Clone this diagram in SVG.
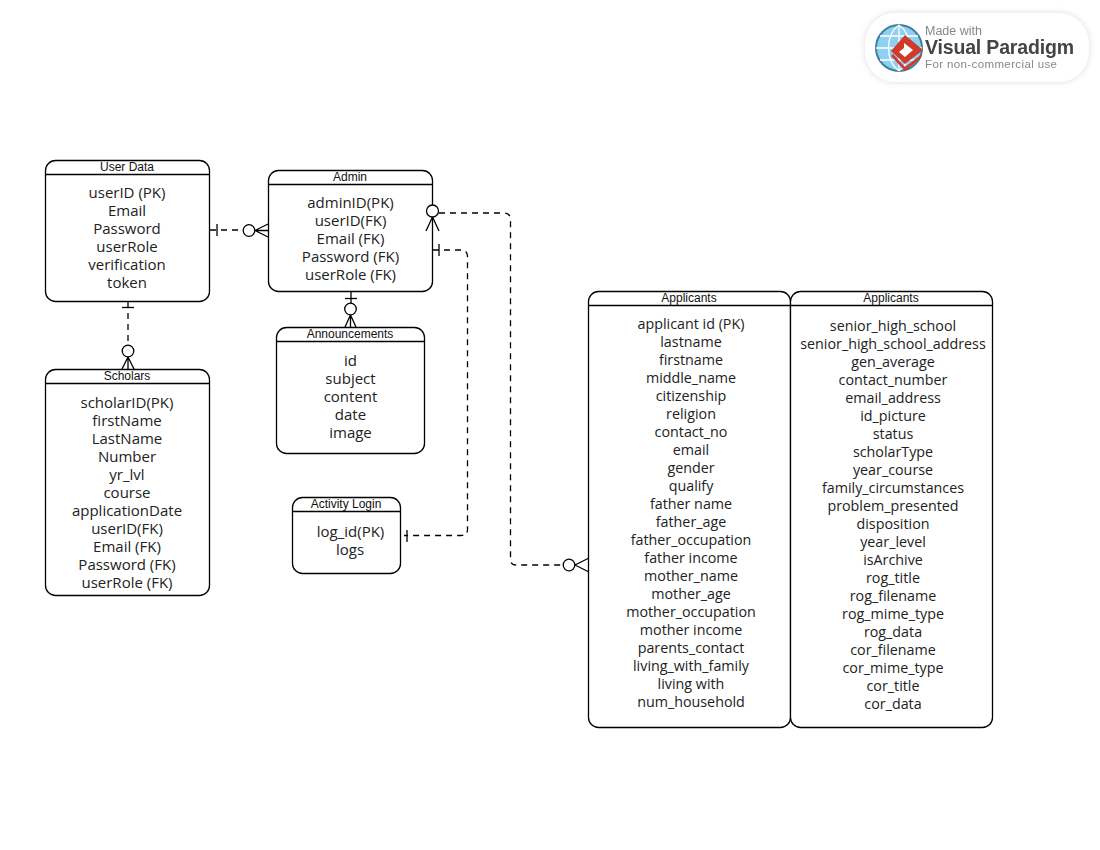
<svg xmlns="http://www.w3.org/2000/svg" width="1100" height="850" viewBox="0 0 1100 850">
<style>
.box{fill:#fff;stroke:#000;stroke-width:1.3}
.div{stroke:#000;stroke-width:1.3;fill:none}
.t{font:12px "Liberation Sans",Arial,sans-serif;fill:#111;text-anchor:middle}
.b{font:14.3px "Open Sans",sans-serif;fill:#222;text-anchor:middle}
.l{font-size:15px}
.c{fill:none;stroke:#000;stroke-width:1.3;stroke-dasharray:6 5}
.m{fill:none;stroke:#000;stroke-width:1.3}
.o{fill:#fff;stroke:#000;stroke-width:1.3}
</style>
<defs>
<filter id="soft" x="-20%" y="-30%" width="140%" height="160%"><feGaussianBlur stdDeviation="3"/></filter>
<filter id="bl" x="-5%" y="-5%" width="110%" height="110%"><feGaussianBlur stdDeviation="0.55"/></filter>
</defs>
<rect width="1100" height="850" fill="#fff"/>

<g id="badge">
<rect x="865" y="13" width="224" height="69" rx="30" fill="#ddd" filter="url(#soft)"/>
<rect x="865" y="13" width="224" height="69" rx="30" fill="#fff"/>
<g filter="url(#bl)">
<circle cx="899" cy="48" r="23" fill="#8fd0f2" stroke="#3f7f9c" stroke-width="2"/>
<path d="M876 48H922M899 25V71M899 25C885 35 885 61 899 71M899 25C913 35 913 61 899 71M880 36H918M880 60H918" fill="none" stroke="#fff" stroke-width="1.3"/>
<path d="M905 35L923 50L905 64L891 51Z" fill="#cf3a2c"/>
<path d="M891 56L905 71L921 58L922 54L905 67L893 54Z" fill="#cf3a2c"/>
<path d="M904 43L913 50L905 57L899 52L904 48Z" fill="#fff"/>
<text x="925" y="35" font-family="Liberation Sans,sans-serif" font-size="12.5" fill="#888">Made with</text>
<text x="925" y="54" font-family="Liberation Sans,sans-serif" font-size="19.5" font-weight="700" fill="#444" textLength="149">Visual Paradigm</text>
<text x="925" y="68" font-family="Liberation Sans,sans-serif" font-size="11.5" fill="#888" textLength="132">For non-commercial use</text>
</g>
</g>

<g id="user-data">
<rect class="box" x="45.500" y="160.500" width="164" height="141" rx="10"/>
<path class="div" d="M45.500 174.500H209.500"/>
<text class="t" x="127" y="171">User Data</text>
<text class="b l" x="127" y="198">userID (PK)</text>
<text class="b l" x="127" y="216">Email</text>
<text class="b l" x="127" y="234">Password</text>
<text class="b l" x="127" y="252">userRole</text>
<text class="b l" x="127" y="270">verification</text>
<text class="b l" x="127" y="288">token</text>
</g>

<g id="admin">
<rect class="box" x="268.500" y="170.500" width="164" height="121" rx="10"/>
<path class="div" d="M268.500 184.500H432.500"/>
<text class="t" x="350" y="181">Admin</text>
<text class="b l" x="350.500" y="208">adminID(PK)</text>
<text class="b l" x="350.500" y="226">userID(FK)</text>
<text class="b l" x="350.500" y="244">Email (FK)</text>
<text class="b l" x="350.500" y="262">Password (FK)</text>
<text class="b l" x="350.500" y="280">userRole (FK)</text>
</g>

<g id="announcements">
<rect class="box" x="276.500" y="327.500" width="148" height="126" rx="10"/>
<path class="div" d="M276.500 341.500H424.500"/>
<text class="t" x="350" y="338">Announcements</text>
<text class="b l" x="350.500" y="365.500">id</text>
<text class="b l" x="350.500" y="383.500">subject</text>
<text class="b l" x="350.500" y="401.500">content</text>
<text class="b l" x="350.500" y="419.500">date</text>
<text class="b l" x="350.500" y="437.500">image</text>
</g>

<g id="scholars">
<rect class="box" x="45.500" y="369.500" width="164" height="226" rx="10"/>
<path class="div" d="M45.500 383.500H209.500"/>
<text class="t" x="127" y="380">Scholars</text>
<text class="b l" x="127" y="408">scholarID(PK)</text>
<text class="b l" x="127" y="426">firstName</text>
<text class="b l" x="127" y="444">LastName</text>
<text class="b l" x="127" y="462">Number</text>
<text class="b l" x="127" y="480">yr_lvl</text>
<text class="b l" x="127" y="498">course</text>
<text class="b l" x="127" y="516">applicationDate</text>
<text class="b l" x="127" y="534">userID(FK)</text>
<text class="b l" x="127" y="552">Email (FK)</text>
<text class="b l" x="127" y="570">Password (FK)</text>
<text class="b l" x="127" y="588">userRole (FK)</text>
</g>

<g id="activity-login">
<rect class="box" x="292.500" y="497.500" width="108" height="76" rx="10"/>
<path class="div" d="M292.500 511.500H400.500"/>
<text class="t" x="346" y="508">Activity Login</text>
<text class="b l" x="350.500" y="537">log_id(PK)</text>
<text class="b l" x="350" y="555">logs</text>
</g>

<g id="applicants-1">
<rect class="box" x="588.500" y="291.500" width="202" height="436" rx="10"/>
<path class="div" d="M588.500 305.500H790.500"/>
<text class="t" x="689" y="302">Applicants</text>
<text class="b" x="691" y="329">applicant id (PK)</text>
<text class="b" x="691" y="347">lastname</text>
<text class="b" x="691" y="365">firstname</text>
<text class="b" x="691" y="383">middle_name</text>
<text class="b" x="691" y="401">citizenship</text>
<text class="b" x="691" y="419">religion</text>
<text class="b" x="691" y="437">contact_no</text>
<text class="b" x="691" y="455">email</text>
<text class="b" x="691" y="473">gender</text>
<text class="b" x="691" y="491">qualify</text>
<text class="b" x="691" y="509">father name</text>
<text class="b" x="691" y="527">father_age</text>
<text class="b" x="691" y="545">father_occupation</text>
<text class="b" x="691" y="563">father income</text>
<text class="b" x="691" y="581">mother_name</text>
<text class="b" x="691" y="599">mother_age</text>
<text class="b" x="691" y="617">mother_occupation</text>
<text class="b" x="691" y="635">mother income</text>
<text class="b" x="691" y="653">parents_contact</text>
<text class="b" x="691" y="671">living_with_family</text>
<text class="b" x="691" y="689">living with</text>
<text class="b" x="691" y="707">num_household</text>
</g>

<g id="applicants-2">
<rect class="box" x="790.500" y="291.500" width="202" height="436" rx="10"/>
<path class="div" d="M790.500 305.500H992.500"/>
<text class="t" x="891" y="302">Applicants</text>
<text class="b" x="893" y="331">senior_high_school</text>
<text class="b" x="893" y="349">senior_high_school_address</text>
<text class="b" x="893" y="367">gen_average</text>
<text class="b" x="893" y="385">contact_number</text>
<text class="b" x="893" y="403">email_address</text>
<text class="b" x="893" y="421">id_picture</text>
<text class="b" x="893" y="439">status</text>
<text class="b" x="893" y="457">scholarType</text>
<text class="b" x="893" y="475">year_course</text>
<text class="b" x="893" y="493">family_circumstances</text>
<text class="b" x="893" y="511">problem_presented</text>
<text class="b" x="893" y="529">disposition</text>
<text class="b" x="893" y="547">year_level</text>
<text class="b" x="893" y="565">isArchive</text>
<text class="b" x="893" y="583">rog_title</text>
<text class="b" x="893" y="601">rog_filename</text>
<text class="b" x="893" y="619">rog_mime_type</text>
<text class="b" x="893" y="637">rog_data</text>
<text class="b" x="893" y="655">cor_filename</text>
<text class="b" x="893" y="673">cor_mime_type</text>
<text class="b" x="893" y="691">cor_title</text>
<text class="b" x="893" y="709">cor_data</text>
</g>

<g id="connectors">
<path class="c" d="M210 230H243"/>
<path class="m" d="M217 224V236"/>
<circle class="o" cx="249" cy="230.500" r="5.800"/>
<path class="m" d="M255 230.500L268 224M255 230.500L268 237M255 230.500H268"/>

<path class="c" d="M128 302V345"/>
<path class="m" d="M122 307.500H134"/>
<circle class="o" cx="128" cy="351" r="5.800"/>
<path class="m" d="M128 357L122 369M128 357L134 369M128 357V369"/>

<path class="m" d="M351 292V303"/>
<path class="m" d="M345 298.500H357"/>
<circle class="o" cx="350.500" cy="309" r="5.800"/>
<path class="m" d="M350.500 315L345 327M350.500 315L356 327M350.500 315V327"/>

<path class="c" d="M439 213H504Q510 213 510.500 219V559Q510.500 565 516 565H563"/>
<circle class="o" cx="432.500" cy="211" r="6"/>
<path class="m" d="M432.500 217L426 231M432.500 217L439 231"/>
<circle class="o" cx="569" cy="565" r="5.800"/>
<path class="m" d="M575 565L589 558M575 565L589 572"/>

<path class="c" d="M433 250H461Q467 250 467.500 256V530Q467 535.500 461 535.500H404"/>
<path class="m" d="M439 244V256"/>
<path class="m" d="M407 530V542"/>
</g>
</svg>
